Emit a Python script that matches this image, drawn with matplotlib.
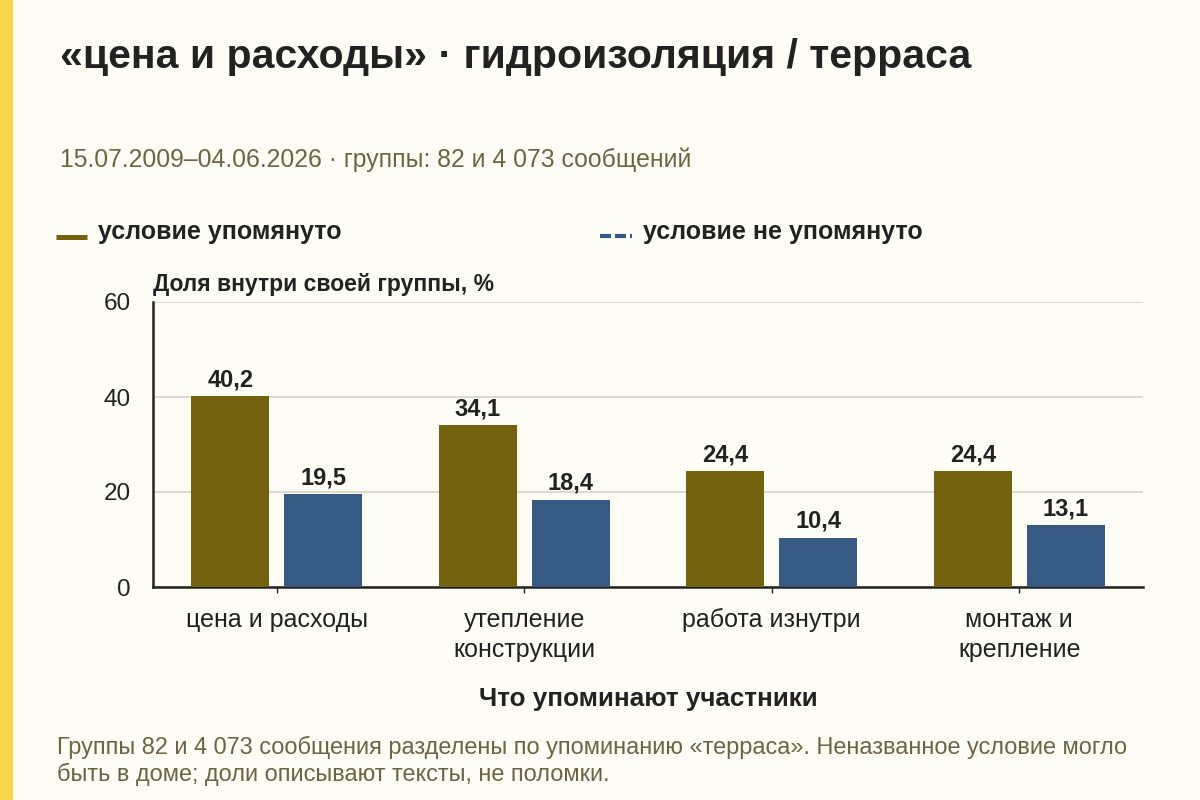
import matplotlib
matplotlib.use("Agg")
import matplotlib.pyplot as plt
from matplotlib.lines import Line2D
from matplotlib.patches import Rectangle
import numpy as np

plt.rcParams['font.family'] = ['Liberation Sans', 'DejaVu Sans']

categories = ["цена и расходы", "утепление\nконструкции", "работа изнутри", "монтаж и\nкрепление"]
mentioned = [40.2, 34.1, 24.4, 24.4]
not_mentioned = [19.5, 18.4, 10.4, 13.1]
series_names = ["условие упомянуто", "условие не упомянуто"]
yticks = [0, 20, 40, 60]

title = "«цена и расходы» · гидроизоляция / терраса"
subtitle = "15.07.2009–04.06.2026 · группы: 82 и 4 073 сообщений"
ylabel = "Доля внутри своей группы, %"
xlabel = "Что упоминают участники"
footnote = ("Группы 82 и 4 073 сообщения разделены по упоминанию «терраса». Неназванное условие могло\n"
            "быть в доме; доли описывают тексты, не поломки.")

BG = "#FDFCF5"
OLIVE = "#75620E"
BLUE = "#365A83"
DARK = "#222222"
MUTED = "#6B6545"

fig = plt.figure(figsize=(12, 8), dpi=100, facecolor=BG)
fig.patches.append(Rectangle((0, 0), 13/1200, 1, transform=fig.transFigure,
                             facecolor="#F8D648", edgecolor="none", zorder=0))

ax = fig.add_axes([153/1200, 1-587/800, 990/1200, 285/800])
ax.set_facecolor(BG)

x = np.arange(len(categories))
w = 0.315
off = 0.187
b1 = ax.bar(x - off, mentioned, w, color=OLIVE, zorder=3)
b2 = ax.bar(x + off, not_mentioned, w, color=BLUE, zorder=3)

def fmt(v):
    return f"{v:.1f}".replace(".", ",")

for bars, vals in ((b1, mentioned), (b2, not_mentioned)):
    for r, v in zip(bars, vals):
        ax.text(r.get_x() + r.get_width()/2, v + 1.0, fmt(v), ha="center", va="bottom",
                fontsize=17, fontweight="bold", color=DARK, zorder=4)

ax.set_xlim(-0.5, 3.5)
ax.set_ylim(0, 60)
ax.set_yticks(yticks)
ax.set_yticklabels([str(t) for t in yticks], fontsize=17.5, color=DARK)
ax.set_xticks(x)
ax.set_xticklabels(categories, fontsize=18, color=DARK, linespacing=1.3)
ax.tick_params(axis="y", length=0, pad=16)
ax.tick_params(axis="x", length=4, width=1, color=DARK, pad=11)
ax.grid(axis="y", color="#D6D3C8", linewidth=1.2, zorder=0)
for s in ("top", "right"):
    ax.spines[s].set_visible(False)
for s in ("left", "bottom"):
    ax.spines[s].set_color(DARK)
    ax.spines[s].set_linewidth(1.8)

fig.text(60/1200, 1-57/800, title, fontsize=29.5, fontweight="bold", color=DARK, va="center", ha="left")
fig.text(60/1200, 1-160/800, subtitle, fontsize=17.8, color=MUTED, va="center", ha="left")
fig.text(153/1200, 1-285/800, ylabel, fontsize=16.5, fontweight="bold", color=DARK, va="center", ha="left")
fig.text(648/1200, 1-699/800, xlabel, fontsize=18.7, fontweight="bold", color=DARK, va="center", ha="center")
fig.text(57/1200, 1-761/800, footnote, fontsize=16.9, color=MUTED, va="center", ha="left", linespacing=1.25)

# legend
fig.add_artist(Line2D([56/1200, 87/1200], [1-236.5/800]*2, transform=fig.transFigure,
                      color=OLIVE, linewidth=3.6, solid_capstyle="butt"))
fig.text(98/1200, 1-232/800, series_names[0], fontsize=18, fontweight="bold", color=DARK, va="center", ha="left")
fig.add_artist(Line2D([600/1200, 632/1200], [1-235.5/800]*2, transform=fig.transFigure,
                      color=BLUE, linewidth=3.0, linestyle=(0, (2.64, 0.96)),
                      dash_capstyle="butt"))
fig.text(643/1200, 1-232/800, series_names[1], fontsize=18, fontweight="bold", color=DARK, va="center", ha="left")

fig.savefig("out.png", dpi=100, facecolor=BG)
